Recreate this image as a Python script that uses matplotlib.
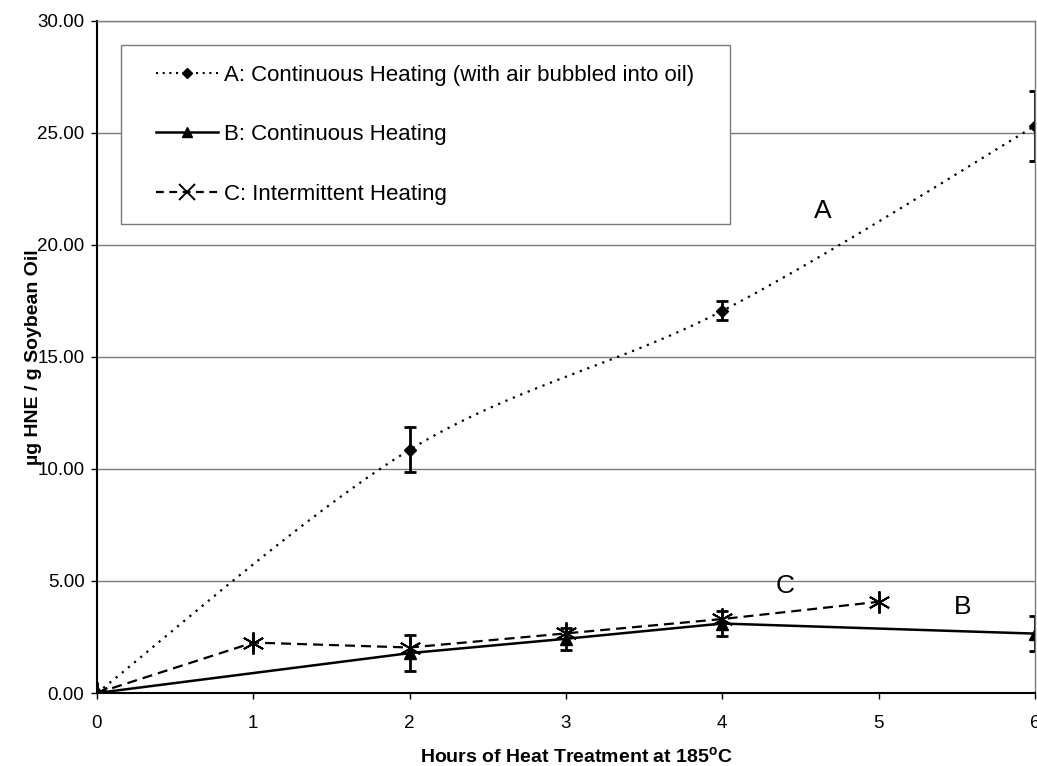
import numpy as np
import matplotlib.pyplot as plt
from matplotlib.patches import Rectangle

plt.rcParams['font.family'] = ['Liberation Sans', 'DejaVu Sans']

# data
hours_a = [0, 2, 4, 6]
hne_a = [0.0, 10.85, 17.05, 25.3]
err_a = [0.0, 1.0, 0.42, 1.54]

hours_b = [0, 2, 3, 4, 6]
hne_b = [0.0, 1.78, 2.42, 3.1, 2.65]
err_b = [0.0, 0.8, 0.5, 0.55, 0.78]

hours_c = [0, 1, 2, 3, 4, 5]
hne_c = [0.0, 2.25, 2.03, 2.66, 3.3, 4.07]

labels = ['A: Continuous Heating (with air bubbled into oil)',
          'B: Continuous Heating',
          'C: Intermittent Heating']


def smooth(x, y, n=40):
    # excel style smoothed line (bezier through the points)
    p = np.column_stack([x, y]).astype(float)
    p = np.vstack([p[0], p, p[-1]])
    out = []
    t = np.linspace(0, 1, n)[:, None]
    for i in range(1, len(p) - 2):
        p0, p3 = p[i], p[i + 1]
        c1 = p0 + (p[i + 1] - p[i - 1]) / 6.0
        c2 = p3 - (p[i + 2] - p[i]) / 6.0
        seg = ((1 - t) ** 3) * p0 + 3 * ((1 - t) ** 2) * t * c1 + 3 * (1 - t) * t ** 2 * c2 + t ** 3 * p3
        out.append(seg)
    out = np.vstack(out)
    return out[:, 0], out[:, 1]


fig = plt.figure(figsize=(10.37, 7.66), dpi=100)
ax = fig.add_axes([0.0935, 0.0953, 0.9045, 0.8777])

ax.set_yticks(np.arange(0, 31, 5))
ax.grid(True, axis='y', color='#7a7a7a', lw=1.0)
ax.set_axisbelow(True)

dots = (0, (1, 2.6))
dashes = (0, (4.5, 2.7))

# A
sx, sy = smooth(hours_a, hne_a)
ax.plot(sx, sy, color='black', ls=dots, lw=1.6)
ax.errorbar(hours_a, hne_a, yerr=err_a, fmt='none', ecolor='black', elinewidth=2, capsize=4, capthick=2)
ax.plot(hours_a, hne_a, ls='none', marker='D', ms=6.5, color='black')
hA, = ax.plot([], [], color='black', ls=(0, (1, 2.2)), lw=1.5, marker='D', ms=5)

# B
ax.plot(hours_b, hne_b, color='black', lw=1.8, marker='^', ms=8)
ax.errorbar(hours_b, hne_b, yerr=err_b, fmt='none', ecolor='black', elinewidth=2, capsize=4, capthick=2)
hB, = ax.plot([], [], color='black', lw=1.8, marker='^', ms=7)

# C
ax.plot(hours_c, hne_c, color='black', ls=dashes, lw=1.6)
ax.plot(hours_c, hne_c, ls='none', marker=(6, 2, 0), ms=16, mew=1.4, color='black')
hC, = ax.plot([], [], color='black', ls=(0, (3.5, 2.5)), lw=1.6, marker='x', ms=11, mew=1.4)

ax.text(4.645, 21.5, 'A', fontsize=19, ha='center', va='center')
ax.text(4.40, 4.79, 'C', fontsize=19, ha='center', va='center')
ax.text(5.54, 3.85, 'B', fontsize=19, ha='center', va='center')

ax.set_xlim(0, 6)
ax.set_ylim(0, 30)
ax.set_xticks(range(0, 7))
ax.set_yticklabels(['%.2f' % v for v in np.arange(0, 31, 5)])
ax.tick_params(axis='y', labelsize=13.5, length=4, width=1, pad=5)
ax.tick_params(axis='x', labelsize=13.5, length=4, width=1, pad=12)

for s in ['top', 'right']:
    ax.spines[s].set_color('#7a7a7a')
    ax.spines[s].set_linewidth(1.0)
for s in ['left', 'bottom']:
    ax.spines[s].set_color('black')
    ax.spines[s].set_linewidth(1.5)

ax.set_xlabel('Hours of Heat Treatment at 185$^{\\mathregular{o}}$C', fontsize=14,
              fontweight='bold', va='baseline')
ax.set_ylabel('\u00b5g HNE / g Soybean Oil', fontsize=14, fontweight='bold')
ax.xaxis.set_label_coords(0.511, -0.1035)
ax.yaxis.set_label_coords(-0.0586, 0.5)

# legend box drawn separately so its padding matches
ax.add_patch(Rectangle((0.0253, 0.6976), 0.6497, 0.2663, transform=ax.transAxes,
                       facecolor='white', edgecolor='#7a7a7a', lw=1.0, zorder=4))
leg = ax.legend([hA, hB, hC], labels, loc='upper left', bbox_to_anchor=(0.0629, 0.9345),
                borderaxespad=0, borderpad=0, fontsize=16, frameon=False,
                handlelength=2.8, handletextpad=0.27, labelspacing=1.73)
leg.set_zorder(5)

plt.savefig('out.png', dpi=100)
